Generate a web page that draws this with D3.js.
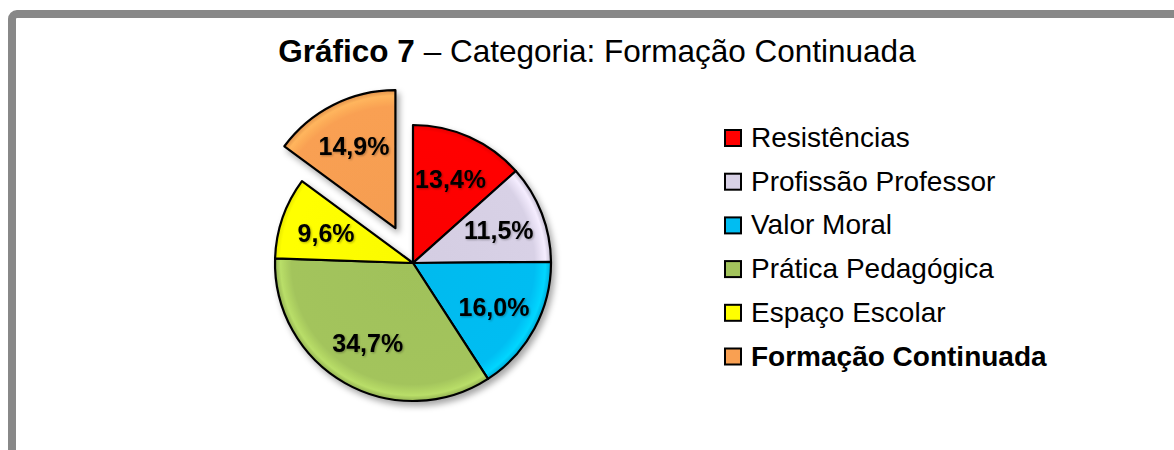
<!DOCTYPE html>
<html>
<head>
<meta charset="utf-8">
<script src="https://cdn.jsdelivr.net/npm/d3@7"></script>
<style>
  body { margin: 0; background: #fff; }
  svg text { font-family: "Liberation Sans", Arial, sans-serif; }
</style>
</head>
<body>
<div id="chart"></div>
<script>
// data
const categories = ["Resistências", "Profissão Professor", "Valor Moral", "Prática Pedagógica", "Espaço Escolar", "Formação Continuada"];
const values = [13.4, 11.5, 16.0, 34.7, 9.6, 14.9];
const labels = ["13,4%", "11,5%", "16,0%", "34,7%", "9,6%", "14,9%"];
const colors = ["#ff0000", "#d8d1e6", "#00bdf2", "#a3c45c", "#ffff00", "#f9a052"];
const highlighted = "Formação Continuada";

const W = 1174, H = 450;
const svg = d3.select("#chart").append("svg")
    .attr("width", W)
    .attr("height", H);

const defs = svg.append("defs");

// soft shadow under the pie
const shadow = defs.append("filter").attr("id", "shadow")
    .attr("x", "-20%").attr("y", "-20%").attr("width", "140%").attr("height", "140%");
shadow.append("feDropShadow")
    .attr("dx", 3).attr("dy", 4).attr("stdDeviation", 3)
    .attr("flood-color", "#000").attr("flood-opacity", 0.35);

// light shadow on the percentage labels
const tshadow = defs.append("filter").attr("id", "tshadow");
tshadow.append("feDropShadow")
    .attr("dx", 1).attr("dy", 1).attr("stdDeviation", 0.8)
    .attr("flood-color", "#000").attr("flood-opacity", 0.3);

const r = 138;

// bevel-like gradient per slice
colors.forEach((c, i) => {
    const g = defs.append("radialGradient")
        .attr("id", "grad" + i)
        .attr("gradientUnits", "userSpaceOnUse")
        .attr("cx", 0).attr("cy", 0).attr("r", r);
    const base = d3.color(c);
    g.append("stop").attr("offset", "0%").attr("stop-color", base.darker(0.05));
    g.append("stop").attr("offset", "88%").attr("stop-color", base);
    g.append("stop").attr("offset", "96%").attr("stop-color", base.brighter(0.35));
    g.append("stop").attr("offset", "100%").attr("stop-color", base.darker(0.3));
});

// frame
svg.append("rect")
    .attr("x", 12).attr("y", 14)
    .attr("width", 1250).attr("height", 600)
    .attr("rx", 5)
    .attr("fill", "none")
    .attr("stroke", "#888888")
    .attr("stroke-width", 8);

// title
const title = svg.append("text")
    .attr("x", 597).attr("y", 62)
    .attr("text-anchor", "middle")
    .style("font-size", "31.5px")
    .attr("fill", "#000");
title.append("tspan").attr("font-weight", "bold").text("Gráfico 7");
title.append("tspan").text(" – Categoria: Formação Continuada");

// pie
const cx = 413, cy = 263;
const explode = 39;
const pie = d3.pie().sort(null).value(d => d.value);
const data = categories.map((name, i) => ({ name, value: values[i], label: labels[i], i }));
const arcs = pie(data);

const arc = d3.arc().innerRadius(0).outerRadius(r);
const labelArc = d3.arc().innerRadius(92).outerRadius(92);

function shift(d) {
    if (d.data.name !== highlighted) return [0, 0];
    const mid = (d.startAngle + d.endAngle) / 2;
    return [Math.sin(mid) * explode, -Math.cos(mid) * explode];
}

const pieG = svg.append("g")
    .attr("transform", `translate(${cx},${cy})`)
    .attr("filter", "url(#shadow)");

const slices = pieG.selectAll("g.slice")
    .data(arcs)
    .join("g")
    .attr("class", "slice")
    .attr("transform", d => `translate(${shift(d)})`);

slices.append("path")
    .attr("d", arc)
    .attr("fill", d => `url(#grad${d.data.i})`)
    .attr("stroke", "#000")
    .attr("stroke-width", 2.2)
    .attr("stroke-linejoin", "round");

const labelG = svg.append("g")
    .attr("transform", `translate(${cx},${cy})`);

labelG.selectAll("text")
    .data(arcs)
    .join("text")
    .attr("transform", d => {
        const [x, y] = labelArc.centroid(d);
        const [dx, dy] = shift(d);
        return `translate(${x + dx},${y + dy})`;
    })
    .attr("text-anchor", "middle")
    .attr("dy", "0.36em")
    .attr("filter", "url(#tshadow)")
    .style("font-size", "25px")
    .style("font-weight", "bold")
    .attr("fill", "#000")
    .text(d => d.data.label);

// legend
const legendY = d3.scalePoint()
    .domain(categories)
    .range([147, 365.5]);

const legend = svg.append("g");
const items = legend.selectAll("g")
    .data(data)
    .join("g")
    .attr("transform", d => `translate(724,${legendY(d.name)})`);

items.append("rect")
    .attr("x", 1).attr("y", -17)
    .attr("width", 16).attr("height", 16)
    .attr("fill", d => colors[d.i])
    .attr("stroke", "#000")
    .attr("stroke-width", 2);

items.append("text")
    .attr("x", 27)
    .attr("y", 0)
    .style("font-size", "28px")
    .style("font-weight", d => d.name === highlighted ? "bold" : "normal")
    .attr("fill", "#000")
    .text(d => d.name);
</script>
</body>
</html>
